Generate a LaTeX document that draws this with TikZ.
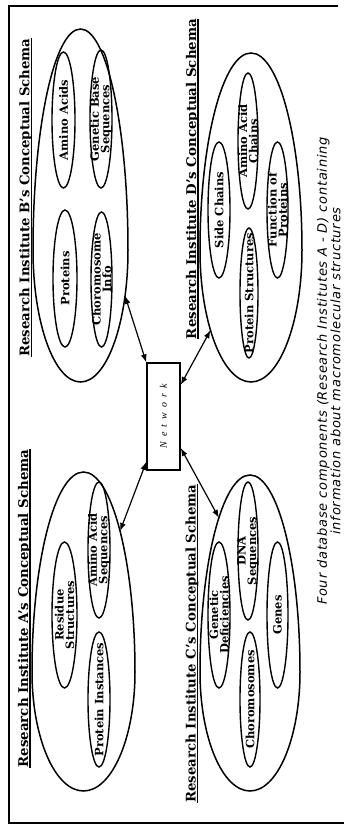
\documentclass[tikz,border=0pt]{standalone}
\usepackage{graphicx}
\usepackage{fontspec}
\setmainfont{DejaVu Serif}
\newfontfamily\capfont[LetterSpace=6]{DejaVu Sans}
\newfontfamily\netfont{Liberation Serif}
\usetikzlibrary{arrows.meta,calc,intersections,shapes.geometric}

\tikzset{
  frame/.style={line width=1.8pt},
  schema/.style={line width=1.5pt},
  item/.style={ellipse, draw, line width=1.4pt, inner sep=0pt},
  itemtext/.style={rotate=90, inner sep=0pt, align=center,
    font=\fontsize{11.5}{10.5}\selectfont\bfseries},
  heading/.style={rotate=90, inner sep=0pt, anchor=base, font=\bfseries},
  headline/.style={line width=1.5pt},
  hub/.style={draw, line width=1.5pt, rotate=90, minimum width=107pt,
    minimum height=33pt, inner sep=0pt,
    font=\netfont\itshape\fontsize{10}{10}\selectfont},
  link/.style={line width=1.2pt,
    {Latex[length=8pt,width=6pt]}-{Latex[length=8pt,width=6pt]}},
}

\begin{document}
\begin{tikzpicture}[x=1pt,y=1pt]
\useasboundingbox (0,0) rectangle (344,825);

% page frame
\draw[frame] (338,819) -- (9,819) -- (9,2) -- (344,2);

% the four schema outlines (egg-shaped ovals)
\draw[schema, name path=eggB] (33,575)
  arc[start angle=180, end angle=0, x radius=47.5, y radius=221]
  arc[start angle=0, end angle=-180, x radius=47.5, y radius=132] -- cycle;
\draw[schema, name path=eggD] (200,575)
  arc[start angle=180, end angle=0, x radius=51, y radius=197]
  arc[start angle=0, end angle=-180, x radius=51, y radius=132] -- cycle;
\draw[schema, name path=eggA] (32,153)
  arc[start angle=180, end angle=0, x radius=51.5, y radius=200]
  arc[start angle=0, end angle=-180, x radius=51.5, y radius=119] -- cycle;
\draw[schema, name path=eggC] (200,153)
  arc[start angle=180, end angle=0, x radius=50, y radius=197]
  arc[start angle=0, end angle=-180, x radius=50, y radius=119] -- cycle;

% schema headings
\node[heading] (headB) at (29.5,627.5)
  {\resizebox{318pt}{!}{Research Institute B's Conceptual Schema}};
\node[heading] (headD) at (196,646)
  {\resizebox{320pt}{!}{Research Institute D's Conceptual Schema}};
\node[heading] (headA) at (28,216.5)
  {\resizebox{318pt}{!}{Research Institute A's Conceptual Schema}};
\node[heading] (headC) at (195.5,181.5)
  {\resizebox{318pt}{!}{Research Institute C's Conceptual Schema}};
\foreach \h in {headB,headD,headA,headC}
  \draw[headline] ([xshift=2pt]\h.base west) -- ([xshift=2pt]\h.base east);

% institute B
\node[item, minimum width=23pt, minimum height=136pt] (aminoB) at (63.5,705) {};
\node[item, minimum width=22pt, minimum height=138pt] (geneB) at (101,706) {};
\node[item, minimum width=24pt, minimum height=137pt] (protB) at (65,546.5) {};
\node[item, minimum width=21pt, minimum height=135pt] (chromB) at (101.5,545.5) {};
\node[itemtext] (aminoBt) at (aminoB) {Amino Acids};
\node[itemtext] (geneBt) at (geneB) {Genetic Base\\Sequences};
\node[itemtext] (protBt) at (protB) {Proteins};
\node[itemtext] (chromBt) at (chromB) {Choromosome\\Info};

% institute D
\node[item, minimum width=20pt, minimum height=136pt] (chainD) at (248,684) {};
\node[item, minimum width=22pt, minimum height=136pt] (sideD) at (219,615) {};
\node[item, minimum width=21pt, minimum height=136pt] (funcD) at (277.5,615) {};
\node[item, minimum width=18pt, minimum height=130pt] (structD) at (249,532) {};
\node[itemtext] (chainDt) at (chainD) {Amino Acid\\Chains};
\node[itemtext] (sideDt) at (sideD) {Side Chains};
\node[itemtext] (funcDt) at (funcD) {Function of\\Proteins};
\node[itemtext] (structDt) at (structD) {Protein Structures};

% institute A
\node[item, minimum width=22pt, minimum height=136pt] (aaseqA) at (99,275) {};
\node[item, minimum width=25pt, minimum height=146pt] (resA) at (64.5,210) {};
\node[item, minimum width=22pt, minimum height=135pt] (instA) at (99,125.5) {};
\node[itemtext] (aaseqAt) at (aaseqA) {Amino Acid\\Sequences};
\node[itemtext] (resAt) at (resA) {Residue\\Structures};
\node[itemtext] (instAt) at (instA) {Protein Instances};

% institute C
\node[item, minimum width=20pt, minimum height=138pt] (dnaC) at (248,274) {};
\node[item, minimum width=22pt, minimum height=146pt] (defC) at (219,210) {};
\node[item, minimum width=21pt, minimum height=146pt] (genesC) at (277.5,210) {};
\node[item, minimum width=20pt, minimum height=135pt] (chromC) at (250,125.5) {};
\node[itemtext] (dnaCt) at (dnaC) {DNA\\Sequences};
\node[itemtext] (defCt) at (defC) {Genetic\\Deficiencies};
\node[itemtext] (genesCt) at (genesC) {Genes};
\node[itemtext] (chromCt) at (chromC) {Choromosomes};

% network hub
\node[hub] (net) at (163.5,408.5)
  {N\hspace{5pt}e\hspace{5pt}t\hspace{5pt}w\hspace{5pt}o\hspace{5pt}r\hspace{5pt}k};

% where each link meets its schema outline
\path[name path=rayB] (net.center) -- ($(net.center)!1.6!(127,523)$);
\path[name path=rayD] (net.center) -- ($(net.center)!1.6!(215,503)$);
\path[name path=rayA] (net.center) -- ($(net.center)!1.6!(125,307)$);
\path[name path=rayC] (net.center) -- ($(net.center)!1.6!(213,318)$);
\path[name intersections={of=eggB and rayB, sort by=rayB, by={hitB}}];
\path[name intersections={of=eggD and rayD, sort by=rayD, by={hitD}}];
\path[name intersections={of=eggA and rayA, sort by=rayA, by={hitA}}];
\path[name intersections={of=eggC and rayC, sort by=rayC, by={hitC}}];

\draw[link] (net) -- (hitB);
\draw[link] (net) -- (hitD);
\draw[link] (net) -- (hitA);
\draw[link] (net) -- (hitC);

% caption
\node[rotate=90, inner sep=0pt] (caption) at (330.5,454)
  {\resizebox{468pt}{!}{\capfont\itshape\fontsize{12}{11}\selectfont
   \begin{tabular}{@{}c@{}}Four database components (Research Institutes A - D) containing\\
   information about macromolecular structures\end{tabular}}};
\end{tikzpicture}
\end{document}
